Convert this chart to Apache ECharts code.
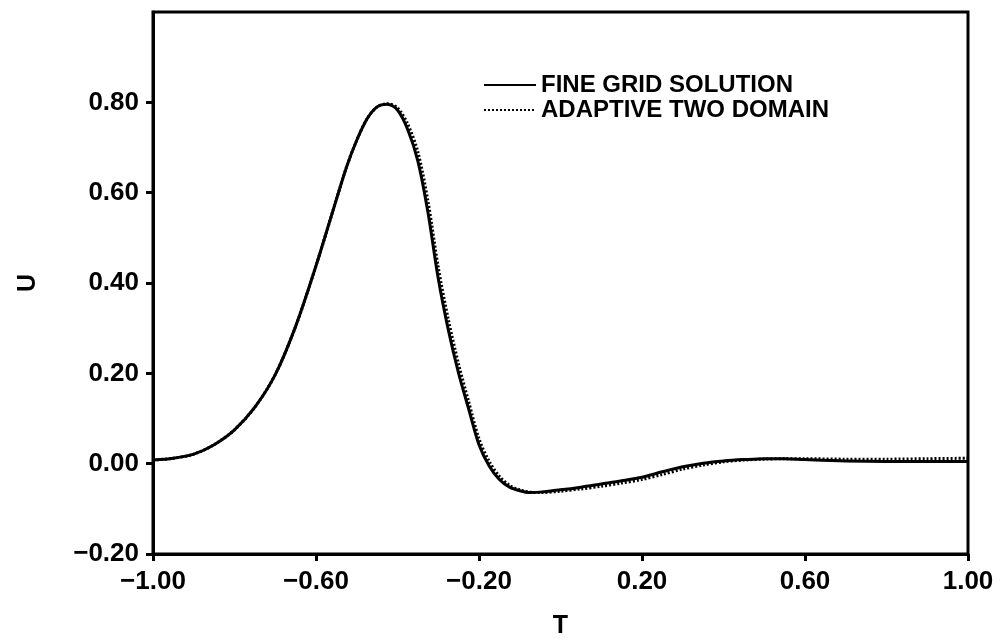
<!DOCTYPE html>
<html>
<head>
<meta charset="utf-8">
<script src="https://cdn.jsdelivr.net/npm/echarts@6/dist/echarts.min.js"></script>
<style>
  html, body { margin: 0; padding: 0; background: #fff; }
  #main { width: 1000px; height: 644px; }
</style>
</head>
<body>
<div id="main"></div>
<script>
// T values (shared by both curves)
var tValues = [-1.00, -0.95, -0.90, -0.85, -0.80, -0.75, -0.70, -0.65, -0.60, -0.55,
               -0.525, -0.50, -0.475, -0.45, -0.425, -0.40, -0.375, -0.35, -0.325, -0.30,
               -0.275, -0.25, -0.225, -0.20, -0.175, -0.15, -0.125, -0.10, -0.075, -0.05,
               0.00, 0.05, 0.10, 0.15, 0.20, 0.25, 0.30, 0.35, 0.40, 0.45,
               0.50, 0.55, 0.60, 0.70, 0.80, 0.90, 1.00];

var fineGrid = [0.008, 0.012, 0.021, 0.042, 0.075, 0.125, 0.197, 0.304, 0.438, 0.585,
                0.657, 0.716, 0.763, 0.790, 0.796, 0.783, 0.740, 0.670, 0.555, 0.410,
                0.295, 0.200, 0.120, 0.042, -0.005, -0.035, -0.052, -0.060, -0.064, -0.063,
                -0.058, -0.052, -0.045, -0.038, -0.030, -0.018, -0.007, 0.001, 0.006, 0.009,
                0.011, 0.011, 0.009, 0.006, 0.005, 0.005, 0.005];

var adaptive = [0.008, 0.012, 0.021, 0.042, 0.075, 0.125, 0.197, 0.304, 0.438, 0.585,
                0.657, 0.716, 0.763, 0.790, 0.797, 0.788, 0.752, 0.690, 0.580, 0.435,
                0.318, 0.220, 0.136, 0.055, 0.005, -0.028, -0.048, -0.058, -0.063, -0.064,
                -0.061, -0.056, -0.050, -0.043, -0.035, -0.024, -0.012, -0.003, 0.004, 0.008,
                0.010, 0.011, 0.011, 0.010, 0.010, 0.011, 0.012];

var yTicks = [-0.2, 0.0, 0.2, 0.4, 0.6, 0.8];

function pairs(xs, ys) {
  return xs.map(function (x, i) { return [x, ys[i]]; });
}
function fmt(v) {
  return v.toFixed(2).replace('-', '\u2212');
}

var font = '"Liberation Sans", Arial, sans-serif';

var myChart = echarts.init(document.getElementById('main'));

var option = {
  animation: false,
  backgroundColor: '#fff',
  grid: {
    left: 153, right: 32, top: 12, bottom: 89,
    show: true, borderColor: '#000', borderWidth: 3
  },
  legend: {
    left: 478, top: 68,
    orient: 'vertical',
    itemWidth: 52, itemHeight: 10, itemGap: 1,
    itemStyle: { opacity: 0 },
    lineStyle: { width: 2 },
    textStyle: { fontFamily: font, fontWeight: 'bold', fontSize: 24, color: '#000' },
    data: ['FINE GRID SOLUTION', 'ADAPTIVE TWO DOMAIN']
  },
  xAxis: {
    type: 'value',
    min: -1, max: 1, interval: 0.4,
    name: 'T', nameLocation: 'middle', nameGap: 60,
    nameTextStyle: { fontFamily: font, fontWeight: 'bold', fontSize: 25, color: '#000' },
    axisLine: { onZero: false, lineStyle: { color: '#000', width: 3 } },
    axisTick: { inside: false, length: 7, lineStyle: { color: '#000', width: 3 } },
    axisLabel: {
      margin: 15, color: '#000', fontFamily: font, fontWeight: 'bold', fontSize: 26,
      formatter: fmt
    },
    splitLine: { show: false }
  },
  yAxis: {
    type: 'value',
    min: -0.2, max: 1.0, interval: 0.2,
    name: 'U', nameLocation: 'middle', nameGap: 112, nameRotate: 90,
    nameTextStyle: { fontFamily: font, fontWeight: 'bold', fontSize: 25, color: '#000' },
    axisLine: { onZero: false, lineStyle: { color: '#000', width: 3 } },
    axisTick: { length: 7, lineStyle: { color: '#000', width: 3 }, customValues: yTicks },
    axisLabel: {
      margin: 14, color: '#000', fontFamily: font, fontWeight: 'bold', fontSize: 26,
      formatter: fmt, customValues: yTicks
    },
    splitLine: { show: false }
  },
  series: [
    {
      name: 'FINE GRID SOLUTION',
      type: 'line',
      smooth: 0.3,
      symbol: 'none',
      lineStyle: { color: '#000', width: 3 },
      itemStyle: { color: '#000' },
      data: pairs(tValues, fineGrid)
    },
    {
      name: 'ADAPTIVE TWO DOMAIN',
      type: 'line',
      smooth: 0.3,
      symbol: 'none',
      lineStyle: { color: '#000', width: 3, type: [2, 2] },
      itemStyle: { color: '#000' },
      data: pairs(tValues, adaptive)
    }
  ]
};
myChart.setOption(option);
</script>
</body>
</html>
